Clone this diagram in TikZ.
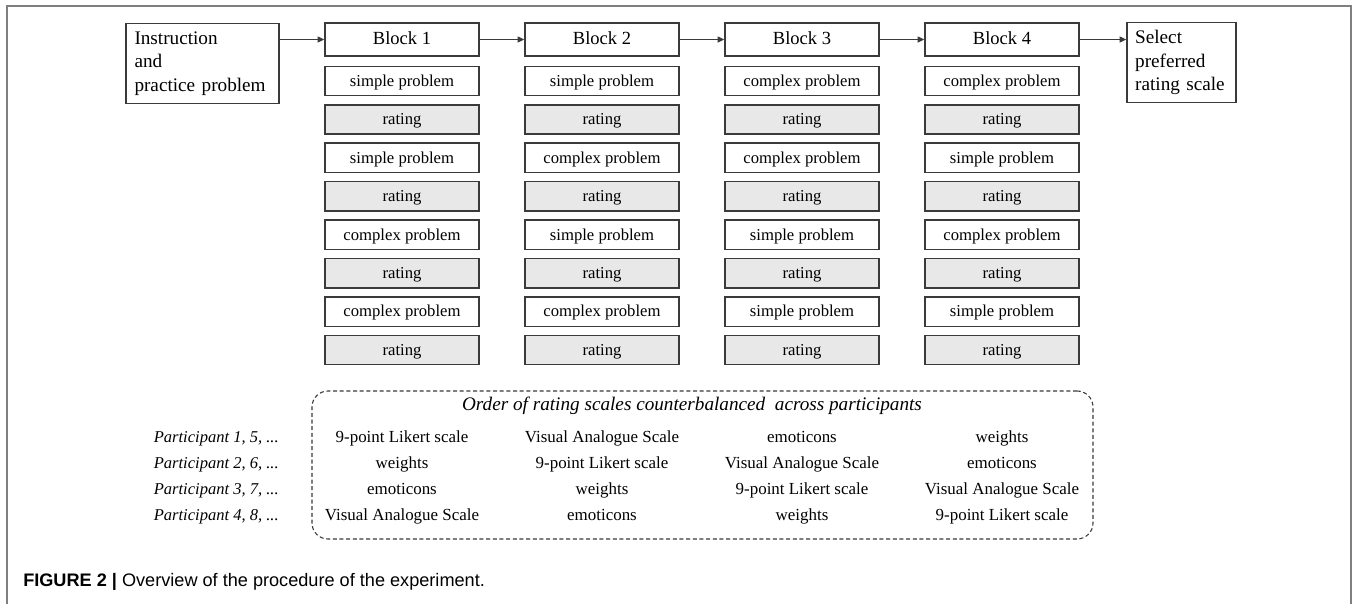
\documentclass[tikz,border=0pt]{standalone}
\usepackage{fontspec}
\setmainfont{Liberation Serif}
\newfontfamily\capfont{Liberation Sans}
\usetikzlibrary{arrows.meta}
\definecolor{boxline}{HTML}{3A3A3A}
\definecolor{ratefill}{HTML}{E8E8E8}
\definecolor{framecol}{HTML}{7F7F7F}
\tikzset{
  fixh/.style={text height=0.9em, text depth=0.1em},
  hdr/.style={draw=boxline, line width=1.1pt, minimum width=115.5pt, minimum height=24.75pt, inner sep=0pt, fixh, font=\fontsize{13.9}{16}\selectfont},
  bigbox/.style={draw=boxline, line width=1.1pt, inner sep=6pt, align=left, font=\fontsize{14.4}{17.6}\selectfont},
  item/.style={draw=boxline, line width=1.1pt, minimum width=115.5pt, minimum height=22pt, inner sep=0pt, fixh, font=\fontsize{12.5}{14}\selectfont},
  rate/.style={item, fill=ratefill},
  arr/.style={-{Triangle[length=5pt,width=4.5pt]}, line width=0.9pt, draw=boxline},
  plabel/.style={anchor=east, inner sep=0pt, fixh, font=\fontsize{12.4}{14}\selectfont\itshape},
  scl/.style={inner sep=0pt, fixh, font=\fontsize{12.7}{14}\selectfont},
}
\begin{document}
\begin{tikzpicture}[x=0.75pt,y=-0.75pt]
\useasboundingbox (0,0) rectangle (1356,604);
\fill[white] (0,0) rectangle (1356,604);
% outer frame
\draw[framecol, line width=0.9pt] (7,604) -- (7,6) -- (1351,6) -- (1351,604);

% instruction and select boxes
\node[bigbox, minimum width=114.75pt, minimum height=59.25pt, text width=102pt] (inst) at (202.5,63.5) {Instruction\\and\\practice problem};
\node[bigbox, minimum width=81.75pt, minimum height=59.25pt, text width=69.5pt] (sel) at (1181.5,62.5) {Select\\preferred\\rating scale};

% blocks
\foreach \c/\xc/\pa/\pb/\pc/\pd in {1/402/simple/simple/complex/complex,2/602/simple/complex/simple/complex,3/802/complex/complex/simple/simple,4/1002/complex/simple/complex/simple}{
  \node[hdr] (b\c) at (\xc,39.5) {Block \c};
  \foreach \k/\p in {0/\pa,1/\pb,2/\pc,3/\pd}{
    \node[item] (b\c p\k) at (\xc,{81+76.86*\k}) {\p\ problem};
    \node[rate] (b\c r\k) at (\xc,{119.43+76.86*\k}) {rating};
  }
}

% arrows
\draw[arr] (inst.east |- b1.west) -- (b1.west);
\foreach \i/\j in {1/2,2/3,3/4} \draw[arr] (b\i.east) -- (b\j.west);
\draw[arr] (b4.east) -- (b4.east -| sel.west);

% counterbalancing box
\node[draw=boxline, dashed, dash pattern=on 3pt off 2pt, line width=0.8pt, rounded corners=12pt, minimum width=585.75pt, minimum height=111pt, inner sep=0pt] (dbox) at (702.5,465) {};
\node[inner sep=0pt, fixh, font=\fontsize{14.4}{16}\selectfont\itshape] (title) at (692,405) {Order of rating scales counterbalanced\ \ across participants};

\foreach \r/\y/\sa/\sb/\sc/\sd in {
  1/437/9-point Likert scale/Visual Analogue Scale/emoticons/weights,
  2/463/weights/9-point Likert scale/Visual Analogue Scale/emoticons,
  3/489/emoticons/weights/9-point Likert scale/Visual Analogue Scale,
  4/515/Visual Analogue Scale/emoticons/weights/9-point Likert scale}{
  \node[scl] (s\r a) at (402,\y) {\sa};
  \node[scl] (s\r b) at (602,\y) {\sb};
  \node[scl] (s\r c) at (802,\y) {\sc};
  \node[scl] (s\r d) at (1002,\y) {\sd};
}
\node[plabel] (p1) at (279,437) {Participant 1, 5, ...};
\node[plabel] (p2) at (279,463) {Participant 2, 6, ...};
\node[plabel] (p3) at (279,489) {Participant 3, 7, ...};
\node[plabel] (p4) at (279,515) {Participant 4, 8, ...};

% caption
\node[anchor=base west, inner sep=0pt, font=\capfont\fontsize{13.6}{15}\selectfont] (cap) at (23,586) {\textbf{FIGURE 2 |} Overview of the procedure of the experiment.};
\end{tikzpicture}
\end{document}
